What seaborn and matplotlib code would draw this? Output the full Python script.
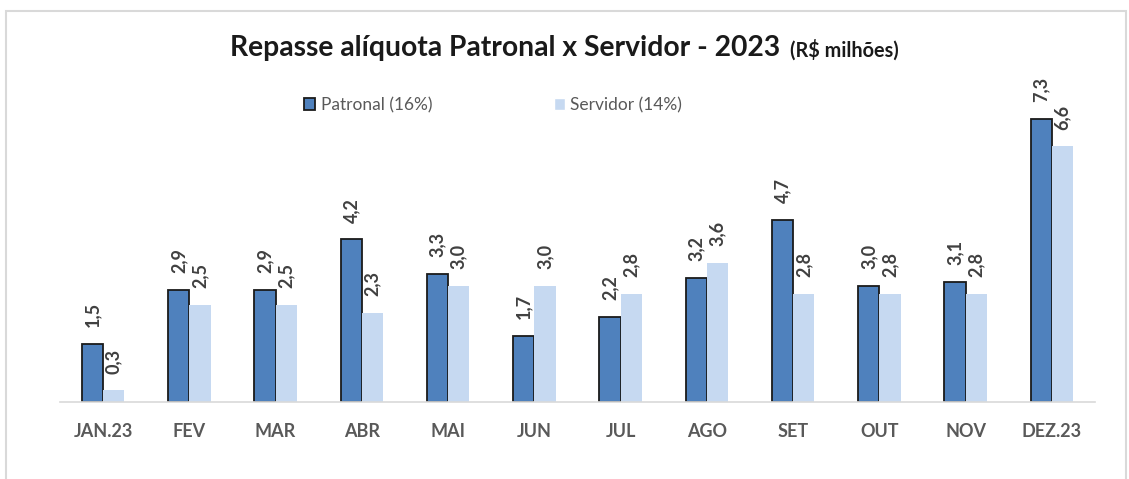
import matplotlib
matplotlib.use("Agg")
import matplotlib.pyplot as plt
import pandas as pd
import seaborn as sns
from matplotlib.patches import Rectangle

meses = ["JAN.23", "FEV", "MAR", "ABR", "MAI", "JUN", "JUL", "AGO", "SET", "OUT", "NOV", "DEZ.23"]
patronal = [1.5, 2.9, 2.9, 4.2, 3.3, 1.7, 2.2, 3.2, 4.7, 3.0, 3.1, 7.3]
servidor = [0.3, 2.5, 2.5, 2.3, 3.0, 3.0, 2.8, 3.6, 2.8, 2.8, 2.8, 6.6]
series = ["Patronal (16%)", "Servidor (14%)"]
cores = ["#4F81BD", "#C6D9F1"]

df = pd.DataFrame({
    "mes": meses * 2,
    "valor": patronal + servidor,
    "serie": [series[0]] * len(meses) + [series[1]] * len(meses),
})

sns.set_theme(style="white")
plt.rcParams["font.family"] = ["Lato", "DejaVu Sans"]

W, H = 1129, 479
fig = plt.figure(figsize=(W / 100, H / 100), dpi=100)
# axes box in pixels: left 60, right 1095, baseline 402, top 92
ax = fig.add_axes([60 / W, (H - 402) / H, 1035 / W, 310 / H])

sns.barplot(data=df, x="mes", y="valor", hue="serie", palette=cores,
            width=0.49, gap=0, saturation=1, ax=ax, legend=True)

# borda preta so na serie patronal
for bar in ax.containers[0]:
    bar.set_edgecolor("#1a1a1a")
    bar.set_linewidth(1.3)
for bar in ax.containers[1]:
    bar.set_linewidth(0)

for cont in ax.containers:
    labels = [f"{v:.1f}".replace(".", ",") for v in cont.datavalues]
    ax.bar_label(cont, labels=labels, rotation=90, padding=12,
                 fontsize=13, fontweight="bold", color="#404040")

ax.set_ylim(0, 8)
ax.set_xlim(-0.5, 11.5)
ax.set_xlabel("")
ax.set_ylabel("")
ax.set_yticks([])
for s in ["top", "right", "left"]:
    ax.spines[s].set_visible(False)
ax.spines["bottom"].set_color("#d9d9d9")
ax.spines["bottom"].set_linewidth(1.2)
ax.tick_params(axis="x", length=0, pad=15, labelsize=13, labelcolor="#595959")
for t in ax.get_xticklabels():
    t.set_fontweight("bold")

ax.legend(loc="center", bbox_to_anchor=(493 / W, 1 - 105 / H),
          bbox_transform=fig.transFigure, ncol=2, frameon=False,
          fontsize=12.5, handlelength=0.65, handleheight=0.65,
          handletextpad=0.3, columnspacing=7.0, labelcolor="#595959")
leg = ax.get_legend()
leg.legend_handles[0].set_edgecolor("#1a1a1a")
leg.legend_handles[0].set_linewidth(1.3)

# titulo
fig.text(230 / W, 1 - 48 / H, "Repasse alíquota Patronal x Servidor - 2023",
         fontsize=20.3, fontweight="bold", color="#1a1a1a", va="center", ha="left")
fig.text(790 / W, 1 - 50 / H, "(R$ milhões)", fontsize=14.3, fontweight="bold",
         color="#1a1a1a", va="center", ha="left")

# moldura do grafico
fig.patches.append(Rectangle((6 / W, -0.1), 1120 / W, 1.1 - 11 / H,
                             transform=fig.transFigure, fill=False,
                             edgecolor="#d9d9d9", linewidth=1.5))

fig.savefig("out.png", dpi=100)
